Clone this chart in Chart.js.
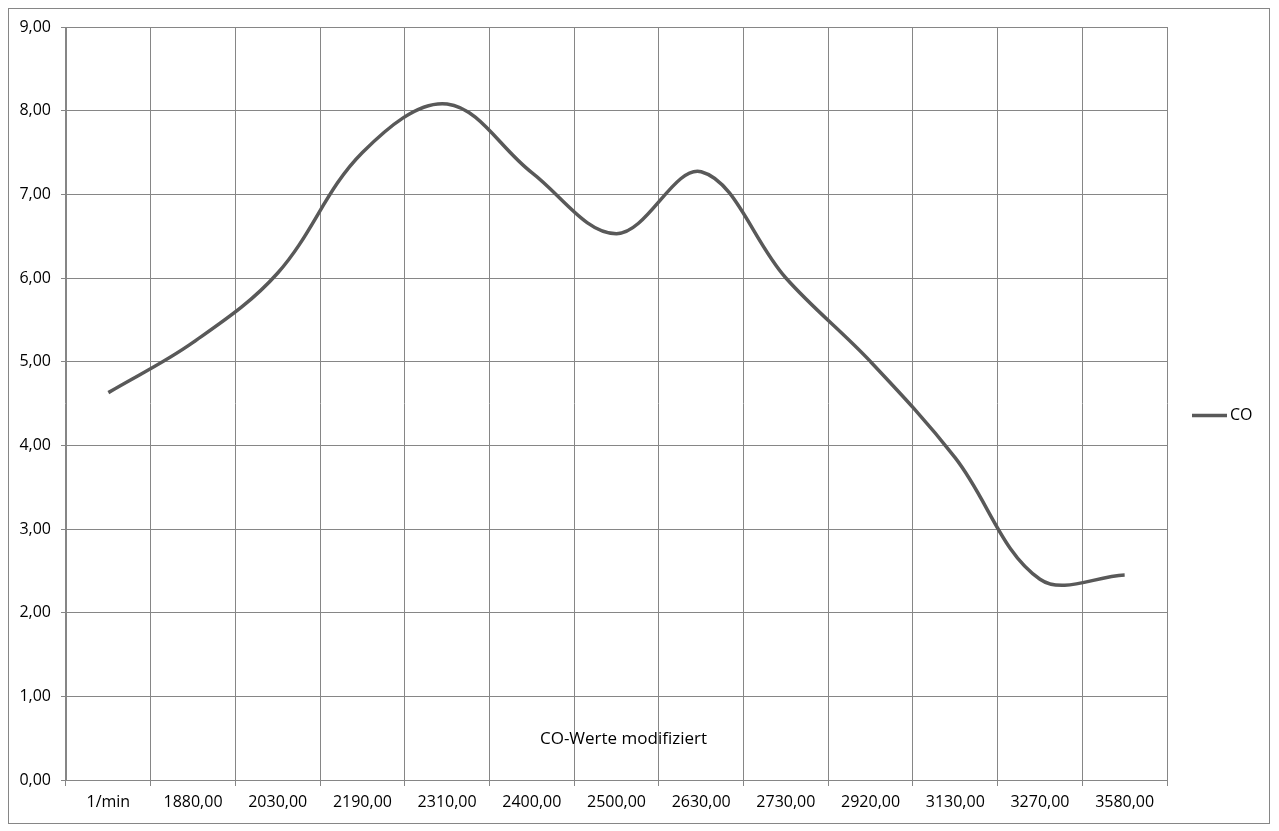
<!DOCTYPE html>
<html>
<head>
<meta charset="utf-8">
<script src="https://cdn.jsdelivr.net/npm/chart.js@4"></script>
<style>
  html, body { margin: 0; padding: 0; background: #ffffff; }
  #wrap { width: 1279px; height: 831px; position: relative; }
</style>
</head>
<body>
<div id="wrap"><canvas id="c" width="1279" height="831"></canvas></div>
<script>
// ---- data ----
const categories = ['1/min', '1880,00', '2030,00', '2190,00', '2310,00', '2400,00', '2500,00', '2630,00', '2730,00', '2920,00', '3130,00', '3270,00', '3580,00'];
const coValues = [4.63, 5.23, 6.06, 7.50, 8.08, 7.26, 6.53, 7.27, 6.00, 5.00, 3.85, 2.40, 2.45];
const seriesName = 'CO';
const chartTitle = 'CO-Werte modifiziert';
const yMin = 0, yMax = 9, yStep = 1;

const FONT = '"Open Sans", "Liberation Sans", sans-serif';
const GRID = '#868686';
const LINE = '#595959';

const decorPlugin = {
  id: 'decor',
  beforeDraw(chart) {
    const ctx = chart.ctx;
    ctx.save();
    ctx.fillStyle = '#ffffff';
    ctx.fillRect(0, 0, chart.width, chart.height);
    ctx.strokeStyle = GRID;
    ctx.lineWidth = 1;
    ctx.strokeRect(8.5, 8.5, 1261, 815);
    ctx.restore();
  },
  afterDraw(chart) {
    const ctx = chart.ctx;
    const a = chart.chartArea;
    ctx.save();
    // in-plot title
    ctx.font = '17px ' + FONT;
    ctx.fillStyle = '#000000';
    ctx.textAlign = 'center';
    ctx.textBaseline = 'middle';
    ctx.fillText(chartTitle, (a.left + a.right) / 2 + 7, 739);
    // legend
    const ly = (a.top + a.bottom) / 2 + 12;
    ctx.strokeStyle = LINE;
    ctx.lineWidth = 3.5;
    ctx.beginPath();
    ctx.moveTo(a.right + 25, ly);
    ctx.lineTo(a.right + 60, ly);
    ctx.stroke();
    ctx.font = '16px ' + FONT;
    ctx.textAlign = 'left';
    ctx.fillText(seriesName, a.right + 63, ly);
    ctx.restore();
  }
};

new Chart(document.getElementById('c'), {
  type: 'line',
  data: {
    labels: categories,
    datasets: [{
      label: seriesName,
      data: coValues,
      borderColor: LINE,
      backgroundColor: LINE,
      borderWidth: 3.5,
      pointRadius: 0,
      tension: 0.36,
      fill: false
    }]
  },
  options: {
    responsive: false,
    animation: false,
    devicePixelRatio: 1,
    layout: { padding: { top: 27, right: 112, left: 0, bottom: 0 } },
    plugins: {
      legend: { display: false },
      title: { display: false },
      tooltip: { enabled: false }
    },
    scales: {
      x: {
        type: 'category',
        offset: true,
        afterFit(scale) { scale.height = 51; },
        grid: { offset: true, color: GRID, lineWidth: 1, drawTicks: true, tickLength: 6, tickColor: GRID },
        border: { color: GRID, width: 1 },
        ticks: { color: '#000000', font: { family: FONT, size: 16 }, padding: 7, maxRotation: 0, autoSkip: false }
      },
      y: {
        min: yMin,
        max: yMax,
        afterFit(scale) { scale.width = 66; },
        grid: { color: GRID, lineWidth: 1, drawTicks: true, tickLength: 5, tickColor: GRID },
        border: { color: GRID, width: 1 },
        ticks: {
          stepSize: yStep,
          color: '#000000',
          padding: 10,
          font: { family: FONT, size: 16 },
          callback: (v) => v.toFixed(2).replace('.', ',')
        }
      }
    }
  },
  plugins: [decorPlugin]
});
</script>
</body>
</html>
